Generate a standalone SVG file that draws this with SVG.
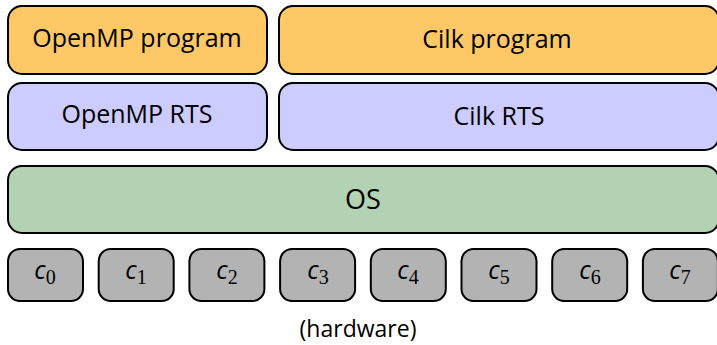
<svg xmlns="http://www.w3.org/2000/svg" width="717" height="345" viewBox="0 0 717 345">
<style>
.box{stroke:#000;stroke-width:2}
.prog{fill:#fdc865}
.rts{fill:#ccccff}
.os{fill:#b3d1b3}
.core{fill:#b3b3b3}
.t{font-family:"Open Sans","Liberation Sans",sans-serif;font-size:25px;fill:#000;text-anchor:middle}
.c{font-family:"Open Sans","Liberation Sans",sans-serif;font-style:italic;font-size:25px;font-weight:500}
.s{font-family:"Liberation Serif","DejaVu Serif",serif;font-size:20px;font-style:normal;font-weight:normal}
</style>
<rect width="717" height="345" fill="#fff"/>
<g id="openmp-program"><rect class="box prog" x="8" y="6" width="259" height="68" rx="14"/><text class="t" x="137" y="47">OpenMP program</text></g>
<g id="cilk-program"><rect class="box prog" x="279" y="6" width="440" height="68" rx="14"/><text class="t" x="497" y="48">Cilk program</text></g>
<g id="openmp-rts"><rect class="box rts" x="8" y="83" width="259" height="67" rx="14"/><text class="t" x="137" y="123">OpenMP RTS</text></g>
<g id="cilk-rts"><rect class="box rts" x="279" y="83" width="440" height="67" rx="14"/><text class="t" x="499" y="125">Cilk RTS</text></g>
<g id="os"><rect class="box os" x="8" y="166" width="711" height="67" rx="14"/><text class="t" x="363" y="209" style="font-size:27px">OS</text></g>
<g id="c0"><rect class="box core" x="8" y="249" width="75" height="52" rx="12"/><text class="t" x="45" y="279"><tspan class="c">c</tspan><tspan class="s" dy="5">0</tspan></text></g>
<g id="c1"><rect class="box core" x="98.7" y="249" width="75" height="52" rx="12"/><text class="t" x="136" y="279"><tspan class="c">c</tspan><tspan class="s" dy="5">1</tspan></text></g>
<g id="c2"><rect class="box core" x="189.4" y="249" width="75" height="52" rx="12"/><text class="t" x="227" y="279"><tspan class="c">c</tspan><tspan class="s" dy="5">2</tspan></text></g>
<g id="c3"><rect class="box core" x="280.1" y="249" width="75" height="52" rx="12"/><text class="t" x="318" y="279"><tspan class="c">c</tspan><tspan class="s" dy="5">3</tspan></text></g>
<g id="c4"><rect class="box core" x="370.8" y="249" width="75" height="52" rx="12"/><text class="t" x="408" y="279"><tspan class="c">c</tspan><tspan class="s" dy="5">4</tspan></text></g>
<g id="c5"><rect class="box core" x="461.5" y="249" width="75" height="52" rx="12"/><text class="t" x="499" y="279"><tspan class="c">c</tspan><tspan class="s" dy="5">5</tspan></text></g>
<g id="c6"><rect class="box core" x="552.2" y="249" width="75" height="52" rx="12"/><text class="t" x="590" y="279"><tspan class="c">c</tspan><tspan class="s" dy="5">6</tspan></text></g>
<g id="c7"><rect class="box core" x="642.9" y="249" width="75" height="52" rx="12"/><text class="t" x="680" y="279"><tspan class="c">c</tspan><tspan class="s" dy="5">7</tspan></text></g>
<g id="connectors"></g>
<text class="t" x="358" y="337" style="font-size:23px">(hardware)</text>
</svg>
